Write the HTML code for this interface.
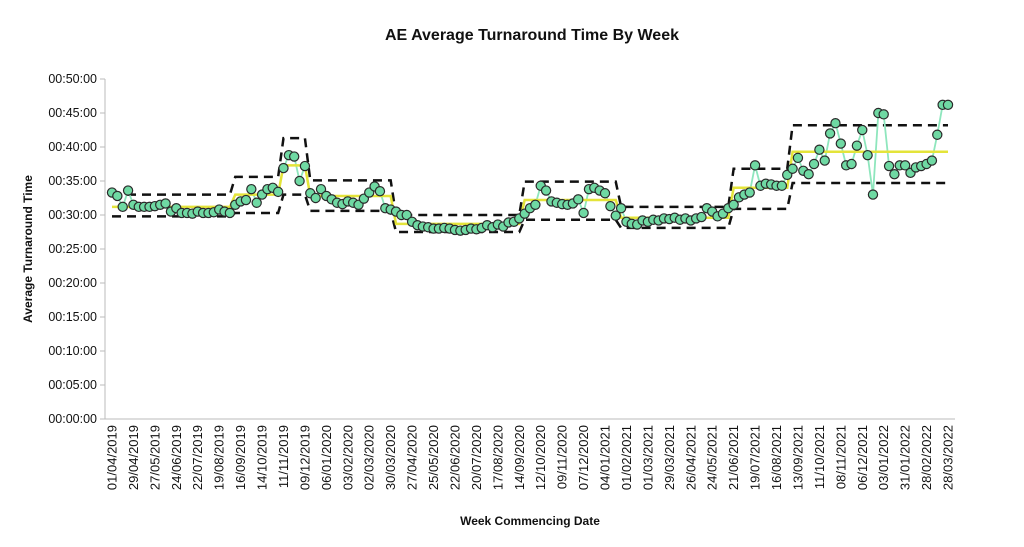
<!DOCTYPE html>
<html><head><meta charset="utf-8"><style>
body{margin:0;background:#fff;font-family:"Liberation Sans",Arial,sans-serif}
svg text{font-family:"Liberation Sans",Arial,sans-serif}
</style></head><body>
<svg id="chart" width="1024" height="542" xmlns="http://www.w3.org/2000/svg">
<text x="532" y="40" text-anchor="middle" font-size="16" font-weight="bold" fill="#111">AE Average Turnaround Time By Week</text>
<text transform="translate(32,249) rotate(-90)" text-anchor="middle" font-size="12" font-weight="bold" fill="#111">Average Turnaround Time</text>
<text x="530" y="525" text-anchor="middle" font-size="12" font-weight="bold" fill="#111">Week Commencing Date</text>
<g id="axes"></g><g id="marks"></g>
</svg>
<script>
const values=[33.3,32.8,31.2,33.6,31.5,31.2,31.2,31.2,31.3,31.5,31.7,30.5,31.0,30.3,30.3,30.2,30.5,30.3,30.3,30.4,30.8,30.5,30.3,
31.5,32.0,32.2,33.8,31.8,33.0,33.8,34.0,33.4,
36.9,38.8,38.6,35.0,37.2,
33.2,32.5,33.8,32.8,32.3,31.8,31.6,32.0,31.8,31.5,32.4,33.3,34.2,33.5,31.0,30.8,
30.5,30.0,30.0,29.0,28.5,28.3,28.2,28.0,28.0,28.1,28.0,27.8,27.7,27.8,28.0,27.9,28.1,28.5,28.2,28.6,28.3,28.9,29.0,29.5,
30.2,31.0,31.5,34.3,33.6,32.0,31.8,31.6,31.5,31.7,32.3,30.3,33.8,34.0,33.6,33.2,31.3,29.9,
31.0,29.0,28.7,28.6,29.2,29.0,29.3,29.2,29.5,29.4,29.6,29.3,29.5,29.2,29.5,29.7,31.0,30.5,29.8,30.2,31.0,
31.5,32.6,33.0,33.3,37.3,34.3,34.6,34.5,34.3,34.3,35.9,
36.8,38.4,36.5,36.0,37.5,39.6,38.0,42.0,43.5,40.5,37.3,37.5,40.2,42.5,38.8,33.0,45.0,44.8,37.2,36.0,37.3,37.3,36.2,37.0,37.2,37.5,38.0,41.8,46.2,46.2];
const segStart=[0,23,32,37,53,77,95,116,127];
const segMean=[31.2,33.0,37.3,32.8,28.7,32.2,29.6,34.0,39.3];
const segUpper=[33.0,35.6,41.3,35.1,30.0,34.9,31.2,36.8,43.2];
const segLower=[29.8,30.3,33.0,30.6,27.5,29.3,28.1,30.9,34.7];
const xLabels=["01/04/2019","29/04/2019","27/05/2019","24/06/2019","22/07/2019","19/08/2019","16/09/2019","14/10/2019","11/11/2019","09/12/2019","06/01/2020","03/02/2020","02/03/2020","30/03/2020","27/04/2020","25/05/2020","22/06/2020","20/07/2020","17/08/2020","14/09/2020","12/10/2020","09/11/2020","07/12/2020","04/01/2021","01/02/2021","01/03/2021","29/03/2021","26/04/2021","24/05/2021","21/06/2021","19/07/2021","16/08/2021","13/09/2021","11/10/2021","08/11/2021","06/12/2021","03/01/2022","31/01/2022","28/02/2022","28/03/2022"];
const yTicks=[0,5,10,15,20,25,30,35,40,45,50];
const NS="http://www.w3.org/2000/svg";
const n=values.length;
const x=i=>112+i*(948-112)/(n-1);
const y=v=>419-v*6.8;
const fmt=m=>"00:"+String(m).padStart(2,"0")+":00";
function mk(t,a,p){const e=document.createElementNS(NS,t);for(const k in a)e.setAttribute(k,a[k]);p.appendChild(e);return e;}
const axes=document.getElementById('axes'),marks=document.getElementById('marks');
const ya=mk('line',{x1:105,y1:79,x2:105,y2:419,stroke:'#bbb','stroke-width':1},axes);


const xa=mk('line',{x1:105,y1:419,x2:955,y2:419,stroke:'#bbb','stroke-width':1},axes);


yTicks.forEach(t=>{
 const tk=mk('line',{x1:100,y1:y(t),x2:105,y2:y(t),stroke:'#bbb'},axes);
 
 
 const tx=mk('text',{x:97,y:y(t)+4,'text-anchor':'end','font-size':12.5,fill:'#111'},axes);
 tx.textContent=fmt(t);
 
 
});
xLabels.forEach((l,k)=>{
 const xx=x(k*4);
 const tx=mk('text',{transform:`translate(${xx+4.5},425) rotate(-90)`,'text-anchor':'end','font-size':13,fill:'#111'},axes);
 tx.textContent=l;
 
 
});
function segVal(arr,i){let s=0;for(let k=0;k<segStart.length;k++)if(i>=segStart[k])s=k;return arr[s];}
function stepPts(arr){let p=[];for(let i=0;i<n;i++)p.push(x(i)+','+y(segVal(arr,i)));return p.join(' ');}
const up=mk('polyline',{points:stepPts(segUpper),fill:'none',stroke:'#111','stroke-width':2.5,'stroke-dasharray':'9,6'},marks);


const lo=mk('polyline',{points:stepPts(segLower),fill:'none',stroke:'#111','stroke-width':2.5,'stroke-dasharray':'9,6'},marks);


const ln=mk('polyline',{points:values.map((v,i)=>x(i)+','+y(v)).join(' '),fill:'none',stroke:'#8ee6bd','stroke-width':1.8},marks);


const mn=mk('polyline',{points:stepPts(segMean),fill:'none',stroke:'#e4e43a','stroke-width':2.5},marks);


values.forEach((v,i)=>{
 const c=mk('circle',{cx:x(i),cy:y(v),r:4.6,fill:'#6fd9a3',stroke:'#2a2a2a','stroke-width':1.2},marks);
 
 
});
</script>
</body></html>
